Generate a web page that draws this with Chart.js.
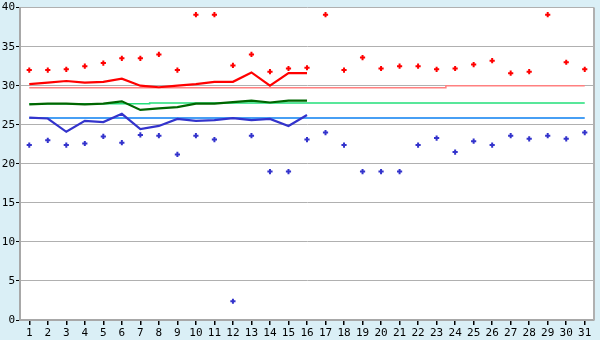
<!DOCTYPE html>
<html>
<head>
<meta charset="utf-8">
<script src="https://cdn.jsdelivr.net/npm/chart.js@4/dist/chart.umd.min.js"></script>
<style>
html,body{margin:0;padding:0;background:#daeff6;}
#wrap{width:600px;height:340px;}
</style>
</head>
<body>
<div id="wrap"><canvas id="c" width="600" height="340"></canvas></div>
<script>
const days = ['1','2','3','4','5','6','7','8','9','10','11','12','13','14','15','16','17','18','19','20','21','22','23','24','25','26','27','28','29','30','31'];
const highs = [32.0,32.0,32.1,32.5,32.9,33.5,33.5,34.0,32.0,39.1,39.1,32.6,34.0,31.8,32.2,32.3,39.1,32.0,33.6,32.2,32.5,32.5,32.1,32.2,32.7,33.2,31.6,31.8,39.1,33.0,32.1];
const lows = [22.4,23.0,22.4,22.6,23.5,22.7,23.7,23.6,21.2,23.6,23.1,2.4,23.6,19.0,19.0,23.1,24.0,22.4,19.0,19.0,19.0,22.4,23.3,21.5,22.9,22.4,23.6,23.2,23.6,23.2,24.0];
const highAvg = [30.2,30.4,30.6,30.4,30.5,30.9,30.0,29.8,30.0,30.2,30.5,30.5,31.7,30.0,31.6,31.6];
const midAvg = [27.6,27.7,27.7,27.6,27.7,28.0,26.9,27.1,27.25,27.7,27.7,27.9,28.1,27.85,28.1,28.1];
const lowAvg = [25.9,25.8,24.1,25.5,25.35,26.4,24.45,24.85,25.75,25.5,25.6,25.85,25.6,25.75,24.85,26.25];
const highNormal = [29.75,29.75,29.75,29.75,29.75,29.75,29.75,29.75,29.75,29.75,29.75,29.75,29.75,29.75,29.75,29.75,29.75,29.75,29.75,29.75,29.75,29.75,29.75,30.0,30.0,30.0,30.0,30.0,30.0,30.0,30.0];
const midNormal = [27.7,27.7,27.7,27.7,27.7,27.7,27.7,27.8,27.8,27.8,27.8,27.8,27.8,27.8,27.8,27.8,27.8,27.8,27.8,27.8,27.8,27.8,27.8,27.8,27.8,27.8,27.8,27.8,27.8,27.8,27.8];
const lowNormal = [25.85,25.85,25.85,25.85,25.85,25.85,25.85,25.85,25.85,25.85,25.85,25.85,25.85,25.85,25.85,25.85,25.85,25.85,25.85,25.85,25.85,25.85,25.85,25.85,25.85,25.85,25.85,25.85,25.85,25.85,25.85];
const yTicks = [0,5,10,15,20,25,30,35,40];

const FONT = {family:'DejaVu Sans Mono', size:11};

const plotBg = {
  id:'plotBg',
  beforeDraw(chart){
    const {ctx, chartArea:a} = chart;
    ctx.save();
    ctx.fillStyle = '#ffffff';
    ctx.fillRect(a.left, a.top, a.right - a.left, a.bottom - a.top);
    ctx.restore();
  },
  afterDraw(chart){
    const {ctx, chartArea:a} = chart;
    ctx.save();
    ctx.strokeStyle = '#b0b0b0';
    ctx.lineWidth = 2;
    ctx.beginPath();
    ctx.moveTo(a.right, a.top);
    ctx.lineTo(a.right, a.bottom);
    ctx.stroke();
    ctx.restore();
  }
};

function pts(data, color){
  return {type:'line', data, showLine:false, pointStyle:'cross', pointRadius:2.6, pointBorderWidth:2,
    pointBorderColor:color, pointBackgroundColor:color, borderColor:color, order:0};
}
function ln(data, color, w, order, stepped){
  return {type:'line', data, borderColor:color, borderWidth:w, pointRadius:0, fill:false,
    tension:0, stepped: stepped || false, order, spanGaps:false};
}

new Chart(document.getElementById('c'), {
  data:{
    labels: days,
    datasets:[
      pts(highs,'#ff0000'),
      pts(lows,'#3333cc'),
      ln(highAvg,'#ff0000',2.2,1),
      ln(midAvg,'#006600',2.2,1),
      ln(lowAvg,'#3333cc',2.2,1),
      ln(highNormal,'#ff8080',1.5,2,'middle'),
      ln(midNormal,'#22e07a',1.5,2,'middle'),
      ln(lowNormal,'#0a7ff0',1.5,2,'middle')
    ]
  },
  options:{
    responsive:false,
    animation:false,
    devicePixelRatio:1,
    layout:{padding:{top:5,right:5,left:0,bottom:0}},
    plugins:{legend:{display:false}, tooltip:{enabled:false}},
    scales:{
      x:{
        type:'category',
        offset:true,
        grid:{display:true, drawOnChartArea:false, drawTicks:true, tickLength:5, offset:false, color:'#000000', lineWidth:1.5},
        border:{display:true, color:'#a8a8a8', width:2},
        ticks:{color:'#000000', font:FONT, padding:2, maxRotation:0, autoSkip:false},
        afterFit(s){ s.height = 20; }
      },
      y:{
        min:0, max:40,
        afterBuildTicks(s){ s.ticks = yTicks.map(v=>({value:v})); },
        grid:{color:'#b0b0b0', lineWidth:1, tickLength:4, tickColor:'#000000'},
        border:{display:true, color:'#a8a8a8', width:2},
        ticks:{color:'#000000', font:FONT, padding:1},
        afterFit(s){ s.width = 20; }
      }
    }
  },
  plugins:[plotBg]
});
</script>
</body>
</html>
